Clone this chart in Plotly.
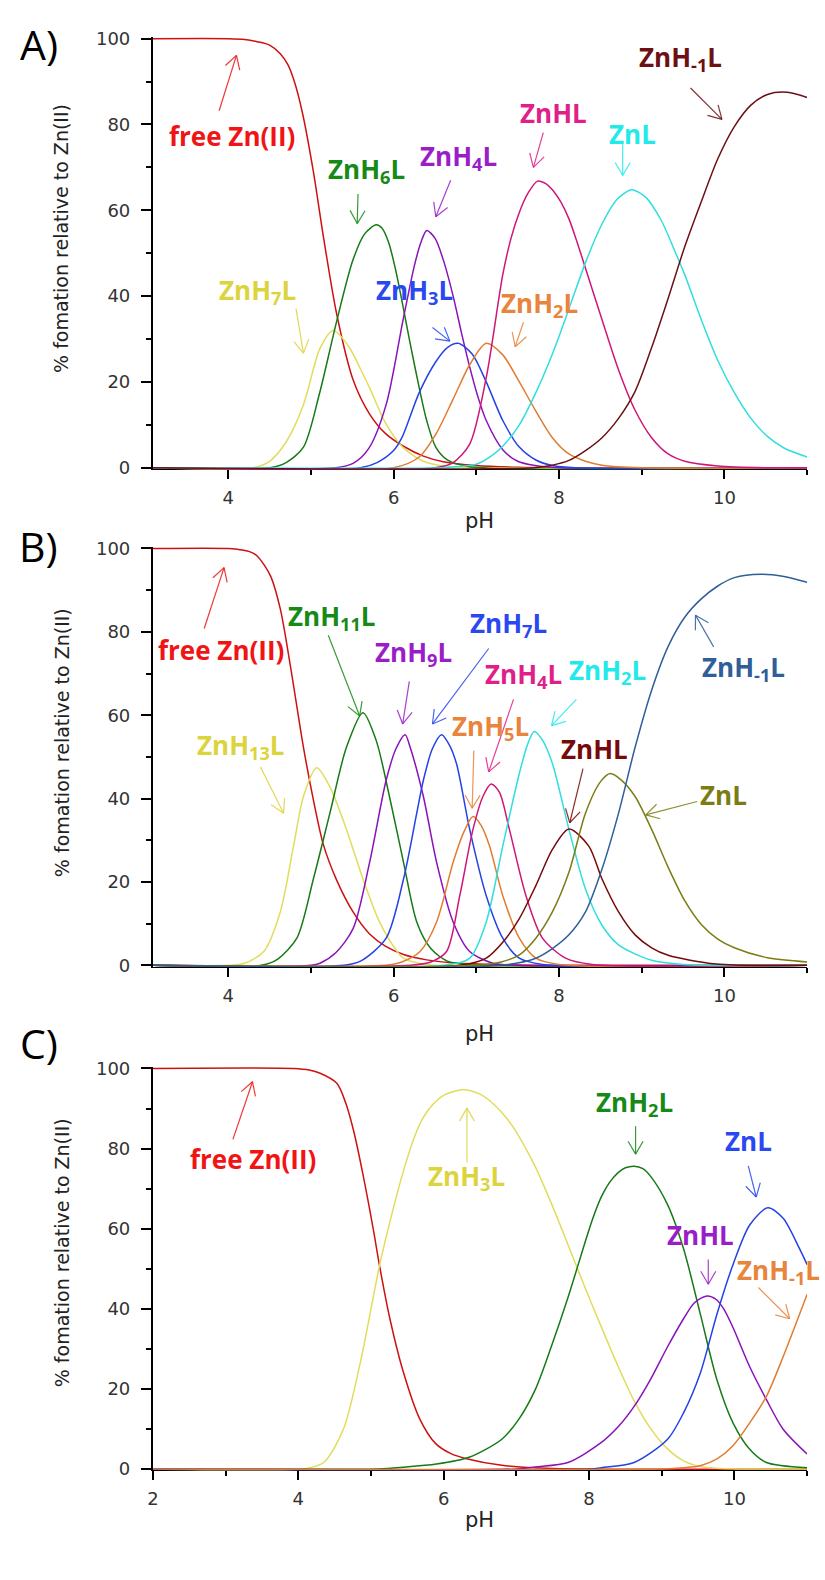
import math
import plotly.graph_objects as go

W, H = 825, 1580

# ---------------- Panel A data ----------------
A_free_x = [3.09, 4.0, 4.2, 4.35, 4.5, 4.63, 4.72, 4.8, 4.9, 5.03, 5.15, 5.31, 5.51, 5.71, 5.9, 6.12, 6.36, 6.6, 7.0, 7.5, 8.0, 11.0]
A_free_y = [100, 100, 99.8, 99.3, 98.5, 96.5, 94, 90, 82.5, 69, 54, 36, 20.5, 12.5, 8, 5, 2.7, 1.4, 0.5, 0.1, 0, 0]
A_h7_x = [3.09, 4.3, 4.5, 4.7, 4.91, 5.11, 5.27, 5.45, 5.6, 5.71, 5.9, 6.11, 6.36, 6.6, 7.0, 11.0]
A_h7_y = [0, 0, 1.5, 6, 14.7, 27.8, 32, 28.5, 23, 18.6, 10.5, 4.8, 1.5, 0.4, 0, 0]
A_h6_x = [3.09, 4.5, 4.7, 4.91, 5.1, 5.31, 5.51, 5.65, 5.79, 5.86, 5.94, 6.02, 6.11, 6.2, 6.31, 6.4, 6.51, 6.65, 6.9, 11.0]
A_h6_y = [0, 0, 1.2, 4.8, 17, 34, 48.5, 54.5, 56.6, 55.8, 52.5, 46.5, 38, 29, 18.6, 11, 4.8, 1.8, 0.3, 0]
A_h4_x = [3.09, 5.3, 5.51, 5.7, 5.91, 6.11, 6.25, 6.33, 6.4, 6.5, 6.6, 6.72, 6.82, 6.92, 7.02, 7.12, 7.32, 7.5, 7.71, 8.0, 11.0]
A_h4_y = [0, 0, 1, 4.5, 14.7, 34, 47, 52.5, 55.3, 53.5, 48.5, 40, 31.5, 23.5, 16.5, 11, 4.2, 1.5, 0.5, 0, 0]
A_h3_x = [3.09, 5.6, 5.8, 6.0, 6.1, 6.31, 6.51, 6.65, 6.78, 6.95, 7.12, 7.32, 7.52, 7.72, 7.92, 8.2, 11.0]
A_h3_y = [0, 0, 1.2, 4, 7, 17.5, 24.7, 28, 29, 26.5, 20, 11, 4.8, 1.8, 0.5, 0, 0]
A_h2_x = [3.09, 6.0, 6.31, 6.51, 6.72, 6.92, 7.12, 7.32, 7.52, 7.72, 7.92, 8.12, 8.32, 8.52, 9.0, 11.0]
A_h2_y = [0, 0, 2.5, 7.8, 16, 24, 29, 26.3, 20, 13.2, 7, 3.2, 1.5, 0.6, 0, 0]
A_hl_x = [3.09, 6.5, 6.72, 6.92, 7.12, 7.32, 7.42, 7.52, 7.62, 7.74, 7.84, 7.92, 8.02, 8.12, 8.22, 8.32, 8.52, 8.72, 8.92, 9.12, 9.32, 9.52, 9.92, 10.5, 11.0]
A_hl_y = [0, 0, 1.2, 5.5, 21, 45, 53.5, 59.5, 63.8, 66.8, 66.2, 64.8, 62, 58, 52.5, 46.5, 34.5, 22.8, 13.4, 7, 3.2, 1.5, 0.4, 0, 0]
A_l_x = [3.09, 6.6, 6.8, 7.0, 7.2, 7.32, 7.52, 7.72, 7.92, 8.12, 8.32, 8.52, 8.7, 8.88, 9.05, 9.24, 9.4, 9.52, 9.72, 9.92, 10.12, 10.32, 10.52, 10.72, 11.0]
A_l_y = [0, 0, 0.3, 0.8, 3, 5, 10, 17.5, 26.5, 37, 47.8, 56.8, 62.5, 64.8, 63, 57.5, 50.5, 45, 34.5, 25, 17.5, 11.5, 7.3, 4.6, 2.5]
A_hm1_x = [3.09, 7.7, 7.92, 8.12, 8.32, 8.52, 8.72, 8.92, 9.12, 9.32, 9.52, 9.72, 9.92, 10.12, 10.32, 10.52, 10.76, 11.0]
A_hm1_y = [0, 0, 0.6, 1.7, 4, 7, 11.5, 17.8, 28, 39.5, 51.5, 62, 72, 79.5, 84.5, 87, 87.5, 86.3]

# ---------------- Panel B data ----------------
B_free_x = [3.09, 4.0, 4.11, 4.25, 4.35, 4.51, 4.63, 4.75, 4.91, 5.03, 5.15, 5.31, 5.51, 5.71, 5.9, 6.12, 6.4, 6.7, 7.2, 8.0, 11.0]
B_free_y = [100, 100, 99.8, 99.3, 98.2, 93.5, 85.5, 72.1, 52.3, 39.7, 29, 20.5, 12.8, 7.5, 4.6, 2.6, 1.3, 0.6, 0.2, 0, 0]
B_h13_x = [3.09, 4.0, 4.2, 4.43, 4.63, 4.79, 4.91, 5.07, 5.23, 5.43, 5.63, 5.83, 6.0, 6.12, 6.4, 11.0]
B_h13_y = [0, 0, 0.5, 3.3, 12.8, 28.6, 40.5, 47.4, 42.8, 32.6, 20.7, 10.4, 4.5, 1.7, 0.2, 0]
B_h11_x = [3.09, 4.4, 4.6, 4.83, 5.03, 5.23, 5.43, 5.63, 5.79, 5.95, 6.12, 6.28, 6.45, 6.65, 6.9, 11.0]
B_h11_y = [0, 0, 1.5, 6.5, 20.7, 36.5, 52.3, 60.6, 53.9, 40.5, 24.7, 10.4, 4, 1, 0.2, 0]
B_h9_x = [3.09, 5.0, 5.11, 5.3, 5.51, 5.71, 5.91, 6.03, 6.14, 6.2, 6.36, 6.52, 6.72, 6.92, 7.2, 7.5, 11.0]
B_h9_y = [0, 0, 0.5, 3, 8.8, 24.7, 44.4, 52, 55.3, 52.3, 40.5, 24.7, 10.4, 3.3, 0.5, 0, 0]
B_h7_x = [3.09, 5.4, 5.6, 5.91, 6.12, 6.28, 6.36, 6.47, 6.58, 6.67, 6.76, 6.92, 7.12, 7.32, 7.52, 7.8, 11.0]
B_h7_y = [0, 0, 1, 6.5, 20.7, 36.5, 44.4, 52, 55.3, 53, 48.4, 32.6, 16.7, 6.5, 1.7, 0.2, 0]
B_h5_x = [3.09, 5.9, 6.1, 6.32, 6.52, 6.72, 6.85, 6.96, 7.06, 7.16, 7.32, 7.52, 7.72, 8.0, 11.0]
B_h5_y = [0, 0, 0.8, 3.3, 10.4, 24.7, 32, 35.7, 33.5, 28.6, 16.7, 6.5, 1.7, 0.2, 0]
B_h4_x = [3.09, 6.2, 6.45, 6.64, 6.8, 6.96, 7.08, 7.18, 7.28, 7.4, 7.6, 7.8, 8.08, 8.4, 11.0]
B_h4_y = [0, 0, 0.8, 3.3, 16.7, 32.6, 40.5, 43.5, 41.5, 32.6, 16.7, 6.5, 1.7, 0.2, 0]
B_h2_x = [3.09, 6.6, 6.92, 7.12, 7.32, 7.52, 7.62, 7.7, 7.8, 7.92, 8.12, 8.32, 8.52, 8.72, 9.12, 9.5, 11.0]
B_h2_y = [0, 0, 1.7, 10.4, 28.6, 46, 53, 56.1, 54, 48.4, 32.6, 18.3, 9.6, 4.9, 1.2, 0.2, 0]
B_hl_x = [3.09, 6.8, 7.12, 7.32, 7.52, 7.72, 7.92, 8.12, 8.36, 8.52, 8.72, 8.92, 9.12, 9.32, 9.9, 11.0]
B_hl_y = [0, 0, 1.7, 5.5, 11.2, 19.1, 27.8, 32.7, 28.6, 20.7, 12.8, 7.3, 4.2, 2.4, 0.3, 0]
B_l_x = [3.09, 7.0, 7.3, 7.52, 7.72, 7.92, 8.12, 8.32, 8.5, 8.62, 8.75, 8.92, 9.12, 9.32, 9.52, 9.72, 9.92, 10.12, 10.52, 11.0]
B_l_y = [0, 0, 0.8, 2.5, 6.5, 12.8, 22.3, 36.5, 44, 46, 44.5, 40.5, 32.6, 23.5, 15.5, 9.8, 6.3, 4.2, 1.8, 0.8]
B_hm1_x = [3.09, 7.3, 7.72, 7.92, 8.12, 8.32, 8.52, 8.72, 8.92, 9.12, 9.32, 9.52, 9.72, 9.92, 10.12, 10.44, 10.72, 11.0]
B_hm1_y = [0, 0, 1.7, 4, 7.3, 12.8, 23.1, 36.5, 52.3, 66, 76.5, 83.5, 87.9, 91, 93, 93.8, 93.3, 91.9]

# ---------------- Panel C data ----------------
C_free_x = [2.0, 3.94, 4.15, 4.3, 4.53, 4.65, 4.76, 4.89, 5.03, 5.12, 5.26, 5.44, 5.67, 5.89, 6.1, 6.3, 6.8, 7.5, 11.0]
C_free_y = [100, 100, 99.6, 98.8, 96.3, 91.5, 84.5, 73.5, 60, 50.5, 37.5, 24.5, 12.5, 6.3, 3.8, 2.6, 0.9, 0.1, 0]
C_h3_x = [2.0, 4.07, 4.35, 4.62, 4.85, 5.03, 5.12, 5.26, 5.44, 5.6, 5.71, 5.85, 6.0, 6.26, 6.5, 6.65, 6.8, 6.97, 7.13, 7.26, 7.5, 7.71, 7.94, 8.17, 8.39, 8.62, 8.85, 9.08, 9.3, 9.53, 9.8, 10.0, 11.0]
C_h3_y = [0, 0, 1.6, 9.9, 26.3, 42.8, 51, 61.7, 74, 83, 87.5, 91, 93.3, 94.7, 93.6, 91.7, 89, 85, 80, 75.5, 65.5, 56, 45.5, 35.4, 26, 17, 10, 5, 2, 0.6, 0.1, 0, 0]
C_h2_x = [2.0, 5.1, 5.44, 5.9, 6.35, 6.8, 7.03, 7.26, 7.48, 7.71, 7.94, 8.05, 8.17, 8.28, 8.4, 8.5, 8.62, 8.74, 8.85, 9.08, 9.3, 9.53, 9.76, 9.98, 10.21, 10.44, 11.0]
C_h2_y = [0, 0, 0.4, 1.2, 2.9, 7.4, 12.3, 19.8, 30.5, 42.8, 56.3, 62.5, 68, 71.5, 74, 75.2, 75.6, 75, 73, 66, 55, 38.7, 22.2, 11.5, 4.9, 1.6, 0.3]
C_hl_x = [2.0, 7.0, 7.26, 7.71, 8.17, 8.4, 8.62, 8.85, 9.08, 9.3, 9.45, 9.62, 9.75, 9.85, 9.98, 10.21, 10.44, 10.67, 11.0]
C_hl_y = [0, 0, 0.5, 1.6, 6.6, 10.5, 15.6, 22.5, 30.5, 37.5, 41.5, 43.2, 42.3, 40, 35.3, 25.5, 17.3, 9.9, 3.7]
C_l_x = [2.0, 8.0, 8.17, 8.62, 9.08, 9.3, 9.53, 9.76, 9.98, 10.21, 10.46, 10.67, 10.89, 11.0]
C_l_y = [0, 0, 0.3, 1.6, 7.4, 14, 23.9, 38.7, 51, 60.9, 65.2, 62.6, 55.2, 51]
C_hm1_x = [2.0, 9.0, 9.3, 9.53, 9.76, 9.98, 10.21, 10.44, 10.67, 11.0]
C_hm1_y = [0, 0, 0.3, 0.8, 2.5, 5.8, 11.5, 18.1, 28, 43.6]

# ---------------- colours ----------------
RED, RED_T = "#cf1010", "#f01414"
YEL, YEL_T = "#e2dc5c", "#dcd43c"
GRN, GRN_T = "#167a16", "#168a16"
PUR, PUR_T = "#8a12b8", "#9a1ec8"
BLU, BLU_T = "#2442e6", "#2a48f0"
ORA, ORA_T = "#e27c30", "#e8843c"
MAG, MAG_T = "#cf1678", "#e01f88"
CYA, CYA_T = "#30dede", "#22eaea"
BRN = "#6c1014"
DRD = "#760a0a"
OLV = "#7c7c14"
STB = "#2f5e98"

# series: (x, y, colour)
A_series = [(A_free_x, A_free_y, RED), (A_h7_x, A_h7_y, YEL), (A_h6_x, A_h6_y, GRN),
            (A_h4_x, A_h4_y, PUR), (A_h3_x, A_h3_y, BLU), (A_h2_x, A_h2_y, ORA),
            (A_hl_x, A_hl_y, MAG), (A_l_x, A_l_y, CYA), (A_hm1_x, A_hm1_y, BRN)]
B_series = [(B_free_x, B_free_y, RED), (B_h13_x, B_h13_y, YEL), (B_h11_x, B_h11_y, GRN),
            (B_h9_x, B_h9_y, PUR), (B_h7_x, B_h7_y, BLU), (B_h5_x, B_h5_y, ORA),
            (B_h4_x, B_h4_y, MAG), (B_h2_x, B_h2_y, CYA), (B_hl_x, B_hl_y, DRD),
            (B_l_x, B_l_y, OLV), (B_hm1_x, B_hm1_y, STB)]
C_series = [(C_free_x, C_free_y, RED), (C_h3_x, C_h3_y, YEL), (C_h2_x, C_h2_y, GRN),
            (C_hl_x, C_hl_y, PUR), (C_l_x, C_l_y, BLU), (C_hm1_x, C_hm1_y, ORA)]

# labels: text, x, y, colour ; arrows: tail x, tail y, head x, head y, colour
A_labels = [("free Zn(II)", 4.05, 77.4, RED_T), ("ZnH<sub>6</sub>L", 5.67, 69.4, GRN_T),
            ("ZnH<sub>7</sub>L", 4.35, 41.2, YEL_T), ("ZnH<sub>4</sub>L", 6.79, 72.4, PUR_T),
            ("ZnH<sub>3</sub>L", 6.25, 41.2, BLU_T), ("ZnH<sub>2</sub>L", 7.77, 38.2, ORA_T),
            ("ZnHL", 7.93, 82.7, MAG_T), ("ZnL", 8.89, 77.7, CYA_T),
            ("ZnH<sub>-1</sub>L", 9.47, 95.4, BRN)]
A_arrows = [(3.89, 83.2, 4.10, 96.1, RED_T), (5.57, 63.8, 5.56, 56.9, GRN_T),
            (4.82, 37.1, 4.91, 26.7, YEL_T), (6.69, 67.0, 6.51, 58.5, PUR_T),
            (6.47, 32.7, 6.68, 29.5, BLU_T), (7.57, 33.9, 7.47, 28.2, ORA_T),
            (7.81, 78.1, 7.69, 70.0, MAG_T), (8.77, 75.4, 8.77, 68.1, CYA_T),
            (9.59, 88.5, 9.97, 81.2, BRN)]
B_labels = [("free Zn(II)", 3.91, 75.7, RED_T), ("ZnH<sub>11</sub>L", 5.25, 83.6, GRN_T),
            ("ZnH<sub>13</sub>L", 4.15, 52.7, YEL_T), ("ZnH<sub>9</sub>L", 6.24, 74.9, PUR_T),
            ("ZnH<sub>7</sub>L", 7.39, 82.0, BLU_T), ("ZnH<sub>4</sub>L", 7.57, 69.7, MAG_T),
            ("ZnH<sub>2</sub>L", 8.59, 70.5, CYA_T), ("ZnH<sub>5</sub>L", 7.17, 57.1, ORA_T),
            ("ZnHL", 8.43, 51.9, DRD), ("ZnL", 9.99, 40.9, OLV),
            ("ZnH<sub>-1</sub>L", 10.23, 71.3, STB)]
B_arrows = [(3.71, 80.8, 3.95, 95.4, RED_T), (5.21, 79.2, 5.59, 59.8, GRN_T),
            (4.39, 47.6, 4.67, 36.5, YEL_T), (6.19, 68.1, 6.11, 57.9, PUR_T),
            (7.15, 76.0, 6.47, 57.9, BLU_T), (7.45, 63.8, 7.15, 46.4, MAG_T),
            (8.21, 63.8, 7.91, 57.5, CYA_T), (6.97, 51.5, 6.95, 37.7, ORA_T),
            (8.29, 47.2, 8.13, 34.2, DRD), (9.67, 39.3, 9.05, 36.1, OLV),
            (9.87, 76.4, 9.65, 84.0, STB)]
C_labels = [("free Zn(II)", 3.37, 77.4, RED_T), ("ZnH<sub>3</sub>L", 6.32, 72.8, YEL_T),
            ("ZnH<sub>2</sub>L", 8.62, 91.4, GRN_T), ("ZnL", 10.19, 81.9, BLU_T),
            ("ZnHL", 9.53, 58.4, PUR_T), ("ZnH<sub>-1</sub>L", 10.6, 49.4, ORA_T)]
C_arrows = [(3.10, 82.3, 3.37, 96.7, RED_T), (6.32, 76.5, 6.32, 90.1, YEL_T),
            (8.64, 85.6, 8.64, 78.6, GRN_T), (10.19, 75.7, 10.30, 67.9, BLU_T),
            (9.64, 52.3, 9.64, 46.1, PUR_T), (10.33, 45.3, 10.76, 37.5, ORA_T)]

# ---------------- layout geometry (pixels) ----------------
PX_L, PX_R = 148, 807
YLO, YHI = -0.4, 100.4
panels = [
    dict(name="A", xr=(3.09, 11.0), py100=30.0, py0=464.0, series=A_series, labels=A_labels,
         arrows=A_arrows, xt=[4, 6, 8, 10], tag_y=35, ytitle_y=232, ph_y=518),
    dict(name="B", xr=(3.09, 11.0), py100=545.7, py0=967.3, series=B_series, labels=B_labels,
         arrows=B_arrows, xt=[4, 6, 8, 10], tag_y=543, ytitle_y=742, ph_y=1037),
    dict(name="C", xr=(2.0, 11.0), py100=1071.7, py0=1476.7, series=C_series, labels=C_labels,
         arrows=C_arrows, xt=[2, 4, 6, 8, 10], tag_y=1046, ytitle_y=1258, ph_y=1528),
]

fig = go.Figure()
TICKFONT = dict(family="DejaVu Sans", size=18, color="#333333")
LABFONT_FAMILY = "Open Sans"
ARM = 15

for i, p in enumerate(panels):
    k = "" if i == 0 else str(i + 1)
    xa, ya = "x" + k, "y" + k
    ppy = (p["py0"] - p["py100"]) / 100.0
    top = p["py100"] - (YHI - 100) * ppy
    bot = p["py0"] + (0 - YLO) * ppy
    ppx = (PX_R - PX_L) / (p["xr"][1] - p["xr"][0])

    for (xs, ys, col) in p["series"]:
        fig.add_trace(go.Scatter(x=xs, y=ys, mode="lines", xaxis=xa, yaxis=ya,
                                 line=dict(color=col, width=1.5, shape="spline", smoothing=0.8),
                                 showlegend=False, hoverinfo="skip"))

    fig.layout["xaxis" + k] = dict(
        domain=[PX_L / W, PX_R / W], range=list(p["xr"]), anchor=ya,
        tickvals=p["xt"], ticks="outside", ticklen=9, tickwidth=2, tickcolor="black",
        showline=True, linecolor="black", linewidth=1, showgrid=False, zeroline=False,
        tickfont=TICKFONT, ticklabelstandoff=3, layer="below traces",
        minor=dict(dtick=1, tick0=0, ticks="outside", ticklen=5, tickwidth=1.5, tickcolor="black", showgrid=False),
    )
    fig.layout["yaxis" + k] = dict(
        domain=[1 - bot / H, 1 - top / H], range=[YLO, YHI], anchor=xa,
        tickvals=[0, 20, 40, 60, 80, 100], ticks="outside", ticklen=10, tickwidth=2, tickcolor="black",
        showline=True, linecolor="black", linewidth=2, showgrid=False, zeroline=False,
        tickfont=TICKFONT, ticklabelstandoff=7,
        minor=dict(dtick=10, tick0=0, ticks="outside", ticklen=5, tickwidth=1.5, tickcolor="black", showgrid=False),
    )

    for (txt, lx, ly, col) in p["labels"]:
        fig.add_annotation(xref=xa, yref=ya, x=lx, y=ly, text=txt, showarrow=False,
                           xanchor="center", yanchor="middle",
                           font=dict(family=LABFONT_FAMILY, size=26, color=col, weight="bold"))

    for (tx, ty, hx, hy, col) in p["arrows"]:
        fig.add_shape(type="line", xref=xa, yref=ya, x0=tx, y0=ty, x1=hx, y1=hy,
                      line=dict(color=col, width=1.2), opacity=0.85)
        dxp = (tx - hx) * ppx
        dyp = -(ty - hy) * ppy
        L = math.hypot(dxp, dyp)
        ux, uy = dxp / L, dyp / L
        for s in (1, -1):
            a = s * math.radians(30)
            rx = ux * math.cos(a) - uy * math.sin(a)
            ry = ux * math.sin(a) + uy * math.cos(a)
            fig.add_shape(type="line", xref=xa, yref=ya, xsizemode="pixel", ysizemode="pixel",
                          xanchor=hx, yanchor=hy, x0=0, y0=0, x1=rx * ARM, y1=-ry * ARM,
                          line=dict(color=col, width=1.2), opacity=0.85)

    # panel tag, y title, x title
    fig.add_annotation(xref="paper", yref="paper", x=33 / W, y=1 - p["tag_y"] / H,
                       text=p["name"] + ")", showarrow=False, xanchor="center", yanchor="middle",
                       font=dict(family="Open Sans", size=41, color="black"))
    fig.add_annotation(xref="paper", yref="paper", x=56 / W, y=1 - p["ytitle_y"] / H,
                       text="% fomation relative to Zn(II)", textangle=-90, showarrow=False,
                       xanchor="center", yanchor="middle",
                       font=dict(family="DejaVu Sans", size=19, color="#222222"))
    fig.add_annotation(xref="paper", yref="paper", x=477 / W, y=1 - p["ph_y"] / H,
                       text="pH", showarrow=False, xanchor="center", yanchor="middle",
                       font=dict(family="DejaVu Sans", size=21, color="#222222"))

fig.update_layout(width=W, height=H, margin=dict(l=0, r=0, t=0, b=0),
                  paper_bgcolor="white", plot_bgcolor="white", showlegend=False)

fig.write_html("out.html")
